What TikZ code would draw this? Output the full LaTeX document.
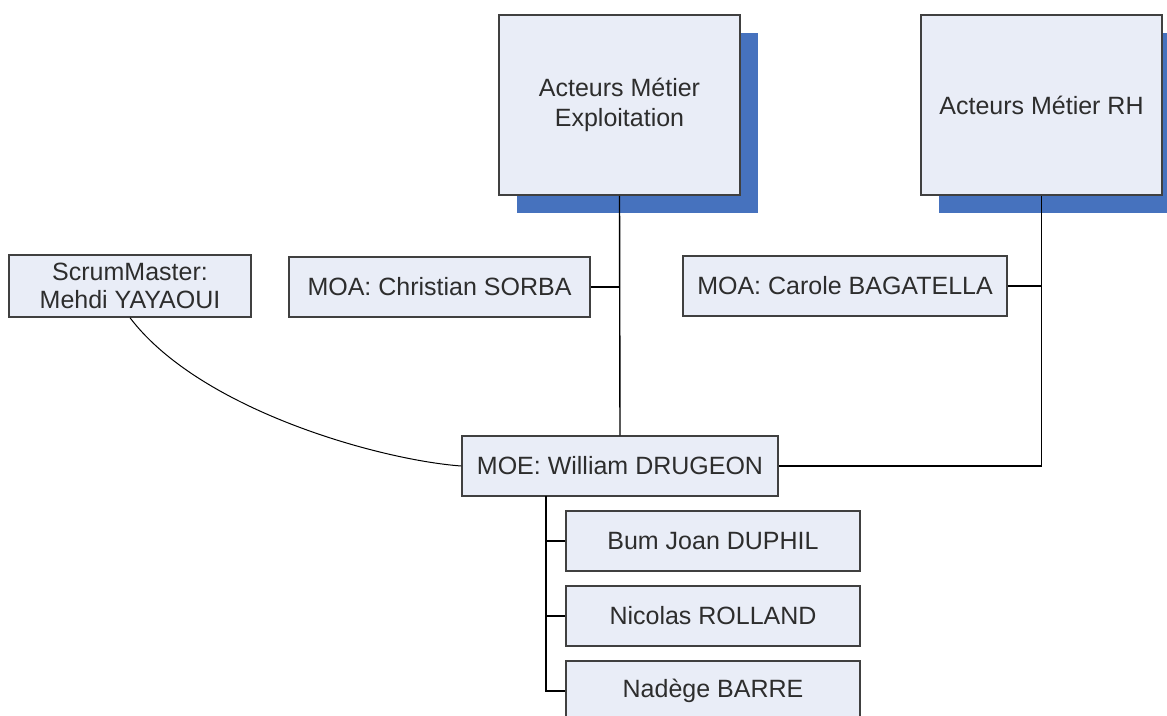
\documentclass[tikz,border=0pt]{standalone}
\usepackage{fontspec}
\setmainfont{Liberation Sans}
\usetikzlibrary{shadows}
\definecolor{boxfill}{RGB}{233,237,247}
\definecolor{boxline}{RGB}{64,64,64}
\definecolor{shadowblue}{RGB}{70,114,190}
\definecolor{txt}{RGB}{45,45,45}
\tikzset{
  box/.style={draw=boxline, line width=1.5pt, fill=boxfill, inner sep=0pt,
    align=center, text=txt, font=\fontsize{25}{30}\selectfont},
  bigbox/.style={box, minimum width=241pt, minimum height=180pt,
    drop shadow={shadow xshift=18pt, shadow yshift=-18pt, fill=shadowblue, opacity=1}},
  link/.style={draw=black, line width=1.4pt}
}
\begin{document}
\begin{tikzpicture}[x=1pt,y=-1pt]
\useasboundingbox (0,0) rectangle (1167,715);
\clip (0,0) rectangle (1167,715);
\fill[white] (0,0) rectangle (1167,715);
\node[bigbox] (expl) at (619.5,105) {Acteurs Métier\\Exploitation};
\node[bigbox] (rh) at (1041.5,105) {Acteurs Métier RH};
\node[box, minimum width=242pt, minimum height=62pt, font=\fontsize{25}{28}\selectfont] (scrum) at (130,286) {ScrumMaster:\\Mehdi YAYAOUI};
\node[box, minimum width=301pt, minimum height=60pt] (moa1) at (439.5,287) {MOA: Christian SORBA};
\node[box, minimum width=324pt, minimum height=60pt] (moa2) at (845,286) {MOA: Carole BAGATELLA};
\node[box, minimum width=316pt, minimum height=60pt] (moe) at (620,466) {MOE: William DRUGEON};
\node[box, minimum width=294pt, minimum height=60pt] (c1) at (713,541) {Bum Joan DUPHIL};
\node[box, minimum width=294pt, minimum height=60pt] (c2) at (713,616) {Nicolas ROLLAND};
\node[box, minimum width=294pt, minimum height=60pt] (c3) at (713,691) {Nadège BARRE};
\coordinate (trunk) at (546,496);
\draw[link] (expl.south) -- (moe.north);
\draw[link] (moa1.east) -- (moa1.east -| expl.south);
\draw[link] (rh.south) |- (moe.east);
\draw[link] (moa2.east) -- (moa2.east -| rh.south);
\draw[link] (trunk) |- (c3.west);
\draw[link] (c1.west) -- (c1.west -| trunk);
\draw[link] (c2.west) -- (c2.west -| trunk);
\draw[link, line width=1pt] (scrum.south) .. controls (200,410) and (380,460) .. (moe.west);
\end{tikzpicture}
\end{document}
